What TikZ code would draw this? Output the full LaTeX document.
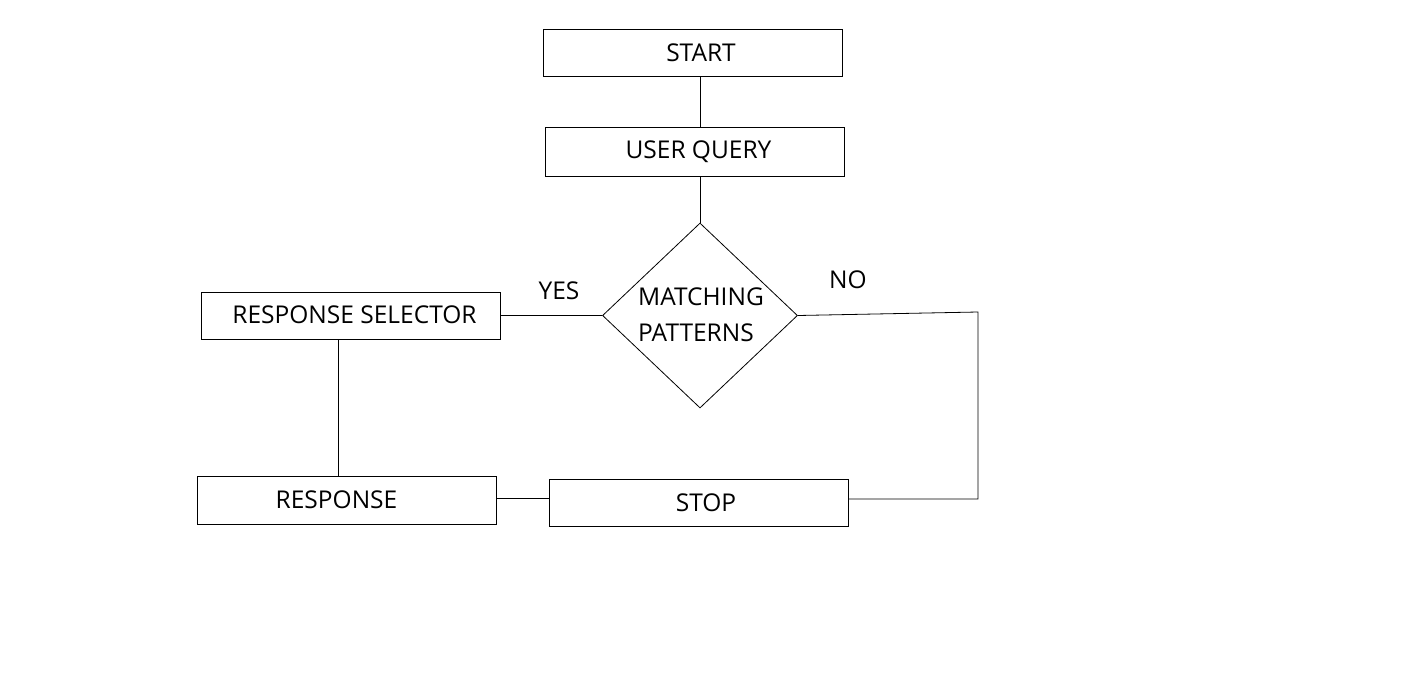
\documentclass[tikz,border=0pt]{standalone}
\usepackage{fontspec}
\setmainfont{Open Sans}
\usetikzlibrary{shapes.geometric}
\begin{document}
\begin{tikzpicture}[x=1pt,y=-1pt,
  box/.style={draw,line width=0.8pt,minimum width=299pt,inner sep=0pt,font=\fontsize{24.5}{28}\selectfont},
  dec/.style={draw,diamond,line width=0.8pt,inner sep=0pt,minimum width=195pt,minimum height=185pt},
  dtext/.style={align=left,inner sep=0pt,font=\fontsize{24.5}{36}\selectfont},
  lbl/.style={font=\fontsize{24.5}{28}\selectfont},
  conn/.style={line width=0.8pt}]
\path[use as bounding box,fill=white] (0,0) rectangle (1416,672);
\node[box,minimum height=47pt] (start) at (692.5,52.5) {\hspace*{17pt}START};
\node[box,minimum height=49pt] (query) at (694.5,151.5) {\hspace*{8pt}USER QUERY};
\node[dec] (match) at (700,315.5) {};
\node[dtext] (matchtext) at (701,315) {MATCHING\\PATTERNS};
\node[box,minimum height=47pt] (sel) at (350.5,315.5) {\raisebox{2pt}{\hspace*{8pt}RESPONSE SELECTOR}};
\node[box,minimum height=48pt] (resp) at (346.5,500) {RESPONSE\hspace*{20pt}};
\node[box,minimum height=47pt] (stop) at (698.5,502.5) {\hspace*{15pt}STOP};
\node[lbl] (yes) at (559,291) {YES};
\node[lbl] (no) at (848,280) {NO};
\coordinate (c1) at (978,312);
\coordinate (c2) at (978,499);
\draw[conn] (start.south -| 700,0) -- (query.north -| 700,0);
\draw[conn] (query.south -| match.north) -- (match.north);
\draw[conn] (match.west) -- (sel.east |- match.west);
\draw[conn] (match.east) -- (c1) -- (c2) -- (stop.east |- c2);
\draw[conn] ([xshift=-12.5pt]sel.south) -- ([xshift=-8.5pt]resp.north);
\draw[conn] (resp.east |- 0,498) -- (stop.west |- 0,498);
\end{tikzpicture}
\end{document}
